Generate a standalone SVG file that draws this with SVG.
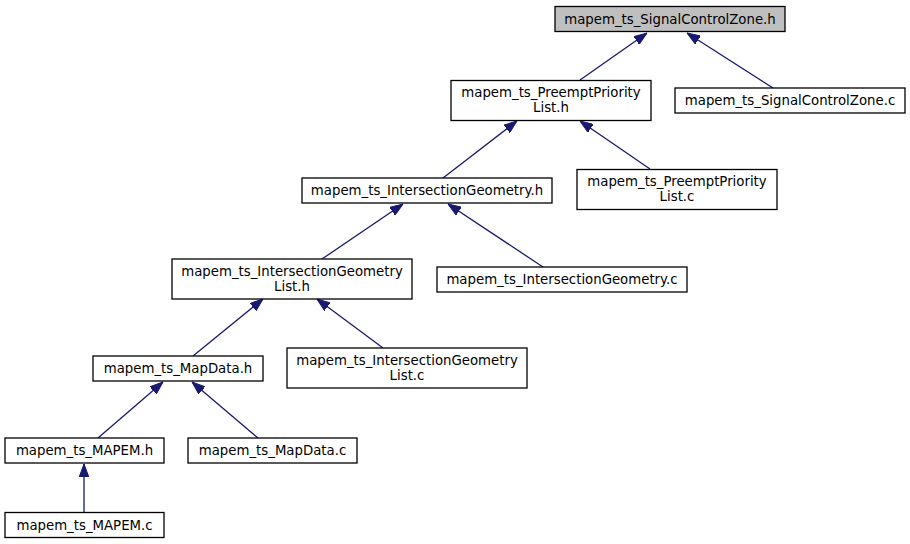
<svg xmlns="http://www.w3.org/2000/svg" width="910" height="544" viewBox="0 0 910 544">
<defs>
<style>
.n rect{fill:#ffffff;stroke:#000000;stroke-width:1.3}
.n.root rect{fill:#bfbfbf}
.n text{font-family:"DejaVu Sans","Liberation Sans",sans-serif;font-size:13.3px;fill:#000000;text-anchor:middle}
.e line{stroke:#191970;stroke-width:1.3;marker-end:url(#ah)}
</style>
<marker id="ah" markerUnits="userSpaceOnUse" viewBox="0 -5 13 10" markerWidth="13" markerHeight="10" refX="13" refY="0" orient="auto">
<path d="M0,-4.8 L13,0 L0,4.8 Z" fill="#191970" stroke="#191970" stroke-width="1"/>
</marker>
</defs>
<rect width="910" height="544" fill="#ffffff"/>
<g id="connectors" class="e">
<line x1="580" y1="80" x2="647" y2="33"/>
<line x1="773" y1="88" x2="687" y2="33"/>
<line x1="443" y1="178" x2="517" y2="121"/>
<line x1="650" y1="169" x2="580" y2="121"/>
<line x1="322" y1="259" x2="403" y2="204"/>
<line x1="543" y1="267" x2="448" y2="204"/>
<line x1="193" y1="356" x2="263" y2="299"/>
<line x1="383" y1="348" x2="317" y2="299"/>
<line x1="98" y1="438" x2="163" y2="382"/>
<line x1="258" y1="438" x2="192" y2="382"/>
<line x1="84" y1="512" x2="84" y2="464"/>
</g>
<g id="node_scz_h" class="n root"><rect x="555" y="6.5" width="230" height="25"/><text x="670" y="24">mapem_ts_SignalControlZone.h</text></g>
<g id="node_ppl_h" class="n"><rect x="451" y="80.5" width="200" height="40"/><text x="551" y="97">mapem_ts_PreemptPriority</text><text x="551" y="112">List.h</text></g>
<g id="node_scz_c" class="n"><rect x="675" y="88" width="230" height="25"/><text x="790" y="105">mapem_ts_SignalControlZone.c</text></g>
<g id="node_ig_h" class="n"><rect x="302" y="178" width="250" height="25"/><text x="427" y="195">mapem_ts_IntersectionGeometry.h</text></g>
<g id="node_ppl_c" class="n"><rect x="577" y="169.5" width="200" height="40"/><text x="677" y="186">mapem_ts_PreemptPriority</text><text x="677" y="201">List.c</text></g>
<g id="node_igl_h" class="n"><rect x="172" y="259" width="240" height="40"/><text x="292" y="275.5">mapem_ts_IntersectionGeometry</text><text x="292" y="290.5">List.h</text></g>
<g id="node_ig_c" class="n"><rect x="437" y="267" width="250" height="25"/><text x="562" y="284">mapem_ts_IntersectionGeometry.c</text></g>
<g id="node_md_h" class="n"><rect x="93" y="356" width="170" height="25"/><text x="178" y="373">mapem_ts_MapData.h</text></g>
<g id="node_igl_c" class="n"><rect x="287" y="348" width="240" height="40"/><text x="407" y="364.5">mapem_ts_IntersectionGeometry</text><text x="407" y="379.5">List.c</text></g>
<g id="node_mapem_h" class="n"><rect x="5" y="438" width="159" height="25"/><text x="84.5" y="455">mapem_ts_MAPEM.h</text></g>
<g id="node_md_c" class="n"><rect x="188" y="438" width="169" height="25"/><text x="272.5" y="455">mapem_ts_MapData.c</text></g>
<g id="node_mapem_c" class="n"><rect x="5" y="512.5" width="159" height="25"/><text x="84.5" y="529.5">mapem_ts_MAPEM.c</text></g>
</svg>
